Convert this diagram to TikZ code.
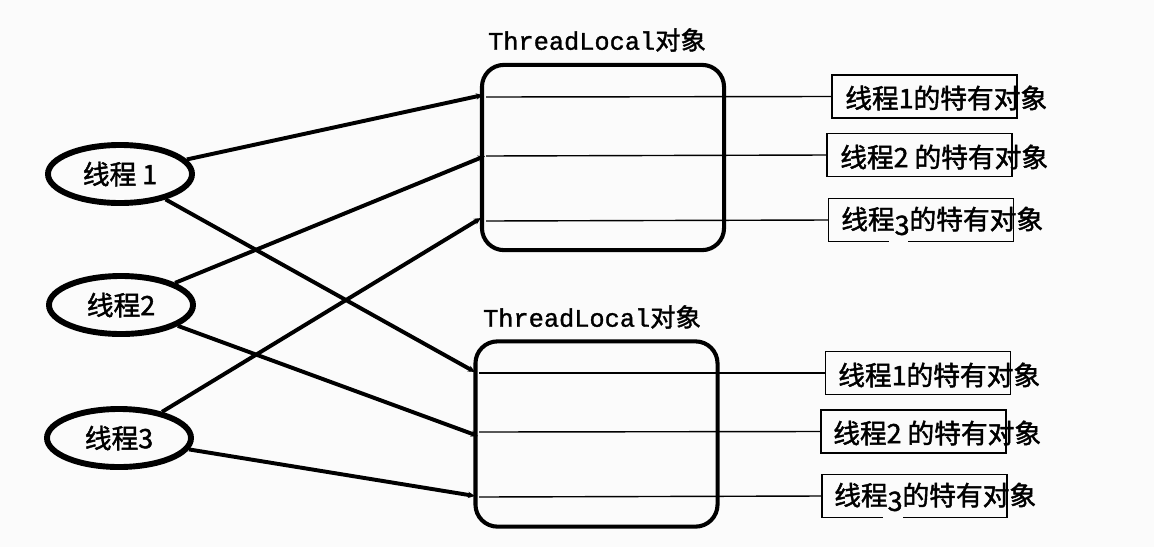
\documentclass[tikz,border=0pt]{standalone}
\usepackage{fontspec}
\setmainfont{Liberation Serif}
\newfontfamily\cjk{Noto Sans CJK SC}[FakeBold=1.6]
\newfontfamily\monof{Liberation Mono}[FakeBold=1.2]
\usetikzlibrary{arrows.meta,shapes.geometric}
\definecolor{bg}{RGB}{251,251,251}
\begin{document}
\begin{tikzpicture}[x=0.025cm,y=-0.025cm,
  thread/.style={ellipse, draw, line width=4.2pt, minimum width=3.6cm, minimum height=1.45cm, inner sep=0pt, font=\cjk\fontsize{19}{19}\selectfont},
  tlbox/.style={draw, line width=2.9pt, rounded corners=0.55cm, minimum width=6.05cm, minimum height=4.63cm},
  tltitle/.style={font=\fontsize{18}{18}\selectfont, inner sep=0pt},
  lbox/.style={draw, line width=1pt, minimum width=4.62cm, minimum height=1.07cm, inner sep=0pt},
  ltext/.style={anchor=west, inner sep=0pt, font=\cjk\fontsize{19}{19}\selectfont},
  conn/.style={line width=2.8pt, -{Stealth[length=5pt,width=4.5pt]}},
  hline/.style={line width=1pt}
]
\fill[bg] (0,0) rectangle (1154,547);
\useasboundingbox (0,0) rectangle (1154,547);

% threads
\node[thread] (t1) at (120,174) {线程 1};
\node[thread] (t2) at (121,305) {线程2};
\node[thread] (t3) at (119,438) {线程3};

% ThreadLocal boxes
\node[tlbox] (A) at (603,157.5) {};
\node[tltitle] (Atitle) at (597,40) {{\monof ThreadLocal}{\cjk 对象}};
\node[tlbox] (B) at (596.5,434) {};
\node[tltitle] (Btitle) at (592,317) {{\monof ThreadLocal}{\cjk 对象}};

% entry points
\coordinate (a1) at (483,95);
\coordinate (a2) at (485,156);
\coordinate (a3) at (481,218);
\coordinate (b1) at (475,372);
\coordinate (b2) at (478,436);
\coordinate (b3) at (475,496);
\coordinate (h1) at (486,97);
\coordinate (h2) at (486,156);
\coordinate (h3) at (486,221);
\coordinate (k1) at (479,373);
\coordinate (k2) at (479,432);
\coordinate (k3) at (479,497);

% label boxes
\node[lbox] (l1) at (924.5,96.5) {};
\node[lbox] (l2) at (919.5,155) {};
\node[lbox] (l3) at (921,220) {};
\node[lbox] (m1) at (918,373) {};
\node[lbox] (m2) at (913.5,431.5) {};
\node[lbox] (m3) at (914.5,496) {};
\fill[bg] (889,240) rectangle (908,244);
\fill[bg] (883,515) rectangle (903,519);

\node[ltext] (l1t) at (845,98) {线程1的特有对象};
\node[ltext] (l2t) at (840,157) {线程2 的特有对象};
\node[ltext] (l3t) at (841,221) {线程\raisebox{-4pt}{3}的特有对象};
\node[ltext] (m1t) at (838,375) {线程1的特有对象};
\node[ltext] (m2t) at (833,433) {线程2 的特有对象};
\node[ltext] (m3t) at (834,497) {线程\raisebox{-4pt}{3}的特有对象};

% horizontal lines
\draw[hline] (h1) -- (l1.west);
\draw[hline] (h2) -- (l2.west);
\draw[hline] (h3) -- (l3.west);
\draw[hline] (k1) -- (m1.west);
\draw[hline] (k2) -- (m2.west);
\draw[hline] (k3) -- (m3.west);

% connectors
\draw[conn] (t1) -- (a1);
\draw[conn] (t1) -- (b1);
\draw[conn] (t2) -- (a2);
\draw[conn] (t2) -- (b2);
\draw[conn] (t3) -- (a3);
\draw[conn] (t3) -- (b3);
\end{tikzpicture}
\end{document}
